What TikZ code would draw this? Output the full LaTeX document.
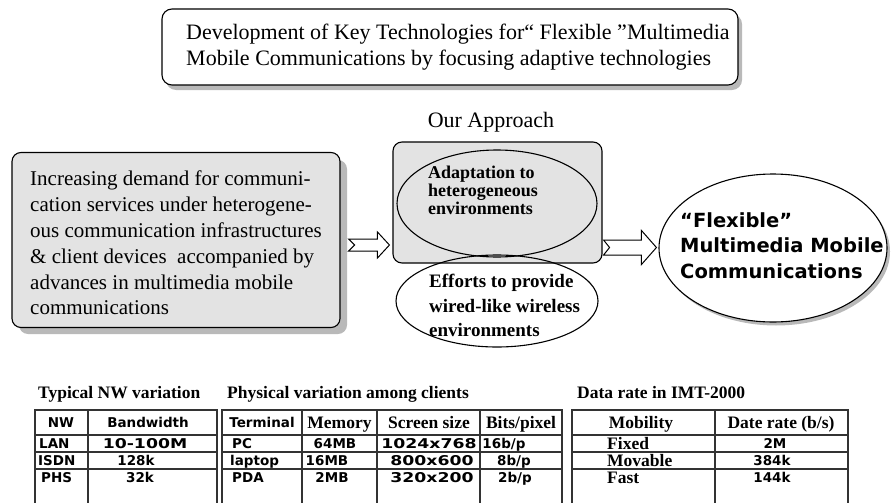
\documentclass[tikz,border=0pt]{standalone}
\usepackage{fontspec}
\setmainfont{Liberation Serif}
\newfontfamily\chic{DejaVu Sans}
\newfontfamily\chicwide{DejaVu Sans}[FakeStretch=1.28]
\usetikzlibrary{calc,shapes.geometric}
\newcommand\hollowarrow[6]{%
  \draw[harrow] let \p1=(#1), \p2=(#2) in
    (\x1,\y1+#3) -- (\x2-#5,\y1+#3) -- (\x2-#5,\y1+#4) -- (\x2,\y1)
    -- (\x2-#5,\y1-#4) -- (\x2-#5,\y1-#3) -- (\x1,\y1-#3) -- (\x1+#6,\y1) -- cycle;}
\tikzset{
  outl/.style={draw=black, line width=1.1pt},
  harrow/.style={draw=black, line width=1pt, fill=white, line join=miter},
  tbl/.style={draw=black!80, line width=1.6pt},
  shadow/.style={fill=gray!55},
  ct/.style={inner sep=0pt, anchor=base, font=\chic\bfseries\fontsize{13.5}{15}\selectfont},
  cw/.style={inner sep=0pt, anchor=base, font=\chicwide\bfseries\fontsize{13.5}{15}\selectfont},
  sb/.style={inner sep=0pt, anchor=base, font=\bfseries\fontsize{17.5}{18}\selectfont},
  ttl/.style={inner sep=0pt, anchor=base west, font=\bfseries\fontsize{17.5}{18}\selectfont},
}
\begin{document}
\begin{tikzpicture}[x=1pt,y=-1pt]
\useasboundingbox (0,0) rectangle (891,503);
\clip (0,0) rectangle (891,503);

% ---- title
\fill[shadow, rounded corners=10pt] (166,14) rectangle (742,90);
\node[outl, fill=white, rounded corners=10pt, minimum width=576pt, minimum height=76pt, inner sep=0] (title) at (450,47) {};
\node[inner sep=0, anchor=west, align=left, font=\fontsize{22}{26}\selectfont] (titletext) at (186,47)
  {Development of Key Technologies for“ Flexible ”Multimedia\\Mobile Communications by focusing adaptive technologies};

% ---- our approach
\node[inner sep=0, font=\fontsize{22}{24}\selectfont] (ourapp) at (491,122) {Our Approach};

% ---- left box
\fill[shadow, rounded corners=9pt] (19,160) rectangle (347,334);
\node[outl, fill=gray!22, rounded corners=9pt, minimum width=328pt, minimum height=175pt, inner sep=0] (lbox) at (176,240) {};
\node[inner sep=0, anchor=north west, align=left, font=\fontsize{21}{25.8}\selectfont] (ltext) at (30,171)
  {Increasing demand for communi-\\cation services under heterogene-\\ous communication infrastructures\\\& client devices\ \ accompanied by\\advances in multimedia mobile\\communications};

% ---- middle
\node[outl, fill=gray!22, rounded corners=9pt, minimum width=209pt, minimum height=121pt, inner sep=0] (apbox) at (497.5,202.5) {};
\node[outl, ellipse, fill=gray!22, minimum width=200pt, minimum height=107pt, inner sep=0] (adapt) at (497,203.5) {};
\node[outl, ellipse, minimum width=202pt, minimum height=92pt, inner sep=0] (effort) at (497,301) {};
\node[inner sep=0, anchor=north west, align=left, font=\bfseries\fontsize{18}{18}\selectfont] (adapttext) at (428,166)
  {Adaptation to\\heterogeneous\\environments};
\node[inner sep=0, anchor=north west, align=left, font=\bfseries\fontsize{19}{24.5}\selectfont] (efforttext) at (429,274)
  {Efforts to provide\\wired-like wireless\\environments};

% ---- right ellipse
\fill[shadow] (776,251.5) ellipse [x radius=114, y radius=74];
\node[outl, ellipse, fill=white, minimum width=228pt, minimum height=148pt, inner sep=0] (flex) at (773,248) {};
\node[inner sep=0, anchor=north west, align=left, font=\chic\bfseries\fontsize{19.5}{25.5}\selectfont] (flextext) at (680,212)
  {“Flexible”\\Multimedia Mobile\\Communications};

% ---- arrows
\coordinate (a1s) at ($(lbox.east)+(8,5)$);
\coordinate (a1e) at ($(apbox.west |- a1s)+(-3,0)$);
\hollowarrow{a1s}{a1e}{6pt}{13pt}{12pt}{6pt}
\coordinate (a2s) at ($(apbox.east)+(1,45)$);
\coordinate (a2e) at ($(flex.west |- a2s)+(-2,0)$);
\hollowarrow{a2s}{a2e}{7.5pt}{17pt}{15pt}{6pt}

% ---- table titles
\node[ttl] (t1title) at (38,398) {Typical NW variation};
\node[ttl] (t2title) at (227,398) {Physical variation among clients};
\node[ttl] (t3title) at (577,398) {Data rate in IMT-2000};

% ---- table grids (bottom cut by the picture edge)
\draw[tbl] (35,515) -- (35,410) -- (217,410) -- (217,515)
  (88,410) -- (88,515)
  (35,435) -- (217,435) (35,452) -- (217,452) (35,469) -- (217,469);
\draw[tbl] (222,515) -- (222,410) -- (562,410) -- (562,515)
  (302,410) -- (302,515) (377,410) -- (377,515) (480,410) -- (480,515)
  (222,435) -- (562,435) (222,452) -- (562,452) (222,469) -- (562,469);
\draw[tbl] (572,515) -- (572,410) -- (848,410) -- (848,515)
  (715,410) -- (715,515)
  (572,435) -- (848,435) (572,452) -- (848,452) (572,469) -- (848,469);

% ---- table 1
\node[ct] (nwh) at (61,427.4) {NW};
\node[ct] (bwh) at (148,427.4) {Bandwidth};
\node[ct, anchor=base west] (lan) at (39,448.4) {LAN};
\node[cw] (lanbw) at (145,448.4) {10-100M};
\node[ct, anchor=base west] (isdn) at (38,465.4) {ISDN};
\node[ct] (isdnbw) at (136,465.4) {128k};
\node[ct, anchor=base west] (phs) at (41,482.4) {PHS};
\node[ct] (phsbw) at (140,482.4) {32k};

% ---- table 2
\node[ct] (termh) at (262,427.4) {Terminal};
\node[sb] (memh) at (339.5,428.3) {Memory};
\node[sb] (scrh) at (429,428.3) {Screen size};
\node[sb] (bith) at (521,428.3) {Bits/pixel};
\node[ct, anchor=base west] (pc) at (232,448.4) {PC};
\node[ct] (pcmem) at (335,448.4) {64MB};
\node[cw] (pcscr) at (429,448.4) {1024x768};
\node[ct] (pcbit) at (504,448.4) {16b/p};
\node[ct, anchor=base west] (lap) at (230,465.4) {laptop};
\node[ct] (lapmem) at (327,465.4) {16MB};
\node[cw] (lapscr) at (432,465.4) {800x600};
\node[ct] (lapbit) at (514,465.4) {8b/p};
\node[ct, anchor=base west] (pda) at (232,482.4) {PDA};
\node[ct] (pdamem) at (332,482.4) {2MB};
\node[cw] (pdascr) at (432,482.4) {320x200};
\node[ct] (pdabit) at (515,482.4) {2b/p};

% ---- table 3
\node[sb] (mobh) at (641,428.3) {Mobility};
\node[sb] (rateh) at (781,428.3) {Date rate (b/s)};
\node[sb, anchor=base west] (fixed) at (607,449.3) {Fixed};
\node[ct] (fixedr) at (775,448.4) {2M};
\node[sb, anchor=base west] (movable) at (607,466.3) {Movable};
\node[ct] (movabler) at (772,465.4) {384k};
\node[sb, anchor=base west] (fast) at (607,483.3) {Fast};
\node[ct] (fastr) at (772,482.4) {144k};
\end{tikzpicture}
\end{document}
